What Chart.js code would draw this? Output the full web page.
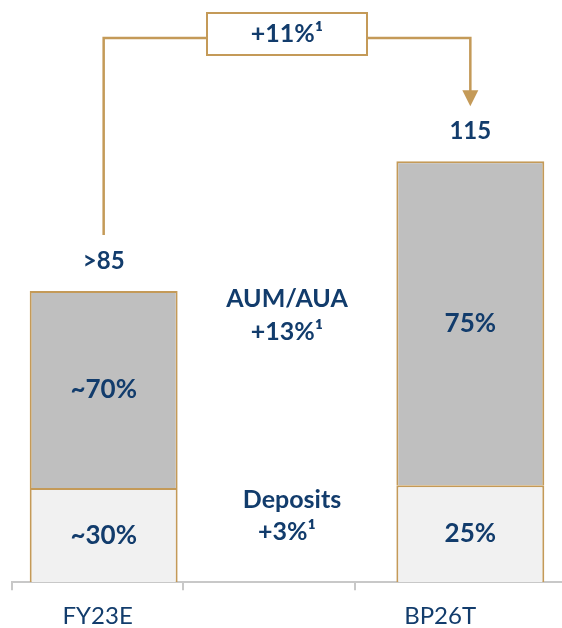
<!DOCTYPE html>
<html>
<head>
<meta charset="utf-8">
<script src="https://cdn.jsdelivr.net/npm/chart.js@4"></script>
<style>
  html, body { margin: 0; padding: 0; background: #fff; }
  #wrap { width: 562px; height: 628px; }
</style>
</head>
<body>
<div id="wrap"><canvas id="chart" width="562" height="628"></canvas></div>
<script>
// data
const categories = ['FY23E', '', 'BP26T'];
const deposits = [27.5, null, 28.3];
const aum = [57.5, null, 94.6];
const depositLabels = ['~30%', '', '25%'];
const aumLabels = ['~70%', '', '75%'];
const totalLabels = ['>85', '', '115'];
const aumGrowth = ['AUM/AUA', '+13%¹'];
const depositGrowth = ['Deposits', '+3%¹'];
const totalGrowth = '+11%¹';

const NAVY = '#123c6c';
const GOLD = '#c49a58';
const FONT = 'Lato, "Open Sans", sans-serif';

// labels inside / above bars, middle texts and the growth arrow
const annotations = {
    id: 'annotations',
    afterDatasetsDraw(chart) {
        const ctx = chart.ctx;
        const depMeta = chart.getDatasetMeta(0);
        const aumMeta = chart.getDatasetMeta(1);
        const xs = chart.scales.x;
        const ys = chart.scales.y;

        ctx.save();
        ctx.fillStyle = NAVY;
        ctx.textAlign = 'center';
        ctx.textBaseline = 'middle';

        // segment labels
        ctx.font = '700 26px ' + FONT;
        categories.forEach((c, i) => {
            if (deposits[i] == null) return;
            const d = depMeta.data[i];
            const a = aumMeta.data[i];
            ctx.fillText(depositLabels[i], d.x, (d.y + d.base) / 2);
            ctx.fillText(aumLabels[i], a.x, (a.y + a.base) / 2);
        });

        // totals above bars
        ctx.font = '700 24px ' + FONT;
        categories.forEach((c, i) => {
            if (aum[i] == null) return;
            const a = aumMeta.data[i];
            ctx.fillText(totalLabels[i], a.x, a.y - 30);
        });

        // middle growth texts
        const mx = xs.getPixelForValue(1);
        ctx.font = '700 25px ' + FONT;
        const aumY = ys.getPixelForValue(78);
        ctx.fillText(aumGrowth[0], mx, aumY - 16);
        ctx.fillText(aumGrowth[1], mx, aumY + 17);
        const depY = ys.getPixelForValue(19.3);
        ctx.fillText(depositGrowth[0], mx + 5, depY - 16);
        ctx.fillText(depositGrowth[1], mx, depY + 16);

        // arrow from first to last bar
        const a0 = aumMeta.data[0];
        const a2 = aumMeta.data[2];
        const lineY = 38;
        const boxW = 160, boxH = 42, boxY = 13;
        ctx.strokeStyle = GOLD;
        ctx.lineWidth = 2.5;
        ctx.beginPath();
        ctx.moveTo(a0.x, a0.y - 56);
        ctx.lineTo(a0.x, lineY);
        ctx.lineTo(mx - boxW / 2, lineY);
        ctx.moveTo(mx + boxW / 2, lineY);
        ctx.lineTo(a2.x, lineY);
        ctx.lineTo(a2.x, a2.y - 70);
        ctx.stroke();

        ctx.fillStyle = GOLD;
        ctx.beginPath();
        ctx.moveTo(a2.x - 8, a2.y - 71);
        ctx.lineTo(a2.x + 8, a2.y - 71);
        ctx.lineTo(a2.x, a2.y - 55);
        ctx.closePath();
        ctx.fill();

        ctx.fillStyle = '#fff';
        ctx.fillRect(mx - boxW / 2, boxY, boxW, boxH);
        ctx.lineWidth = 2;
        ctx.strokeRect(mx - boxW / 2, boxY, boxW, boxH);
        ctx.fillStyle = NAVY;
        ctx.font = '700 25px ' + FONT;
        ctx.fillText(totalGrowth, mx, boxY + boxH / 2);

        ctx.restore();
    }
};

new Chart(document.getElementById('chart').getContext('2d'), {
    type: 'bar',
    data: {
        labels: categories,
        datasets: [
            {
                label: 'Deposits',
                data: deposits,
                backgroundColor: '#f1f1f1',
                borderColor: GOLD,
                borderWidth: 2,
                borderSkipped: 'start',
                xAxisID: 'x'
            },
            {
                label: 'AUM/AUA',
                data: aum,
                backgroundColor: '#bfbfbf',
                borderColor: GOLD,
                borderWidth: 2,
                borderSkipped: 'start',
                xAxisID: 'x'
            }
        ]
    },
    options: {
        responsive: false,
        animation: false,
        layout: { autoPadding: false, padding: { left: 8, right: 0, top: 0, bottom: -15 } },
        plugins: {
            legend: { display: false },
            tooltip: { enabled: false }
        },
        datasets: { bar: { categoryPercentage: 1, barPercentage: 0.807 } },
        scales: {
            x: { display: false, stacked: true },
            xl: {
                type: 'linear',
                position: 'bottom',
                offset: false,
                bounds: 'data',
                min: 0,
                max: 3.2116,
                afterBuildTicks: (scale) => {
                    scale.ticks = [0, 0.5, 1, 1.5, 2, 2.5].map(v => ({ value: v }));
                },
                grid: {
                    offset: false,
                    drawOnChartArea: false,
                    drawTicks: true,
                    tickLength: 8,
                    lineWidth: 2,
                    color: (c) => (c.tick && c.tick.value % 1 === 0) ? '#c8c8c8' : 'rgba(0,0,0,0)',
                    tickColor: (c) => (c.tick && c.tick.value % 1 === 0) ? '#c8c8c8' : 'rgba(0,0,0,0)'
                },
                border: { display: true, color: '#c8c8c8', width: 2 },
                ticks: {
                    autoSkip: false,
                    maxRotation: 0,
                    padding: 12,
                    color: NAVY,
                    font: { family: FONT, size: 24, lineHeight: 1.2 },
                    callback: (v) => (v % 1 === 0.5) ? categories[Math.floor(v)] : ''
                }
            },
            y: { display: false, stacked: true, min: 0, max: 170 }
        }
    },
    plugins: [annotations]
});
</script>
</body>
</html>
